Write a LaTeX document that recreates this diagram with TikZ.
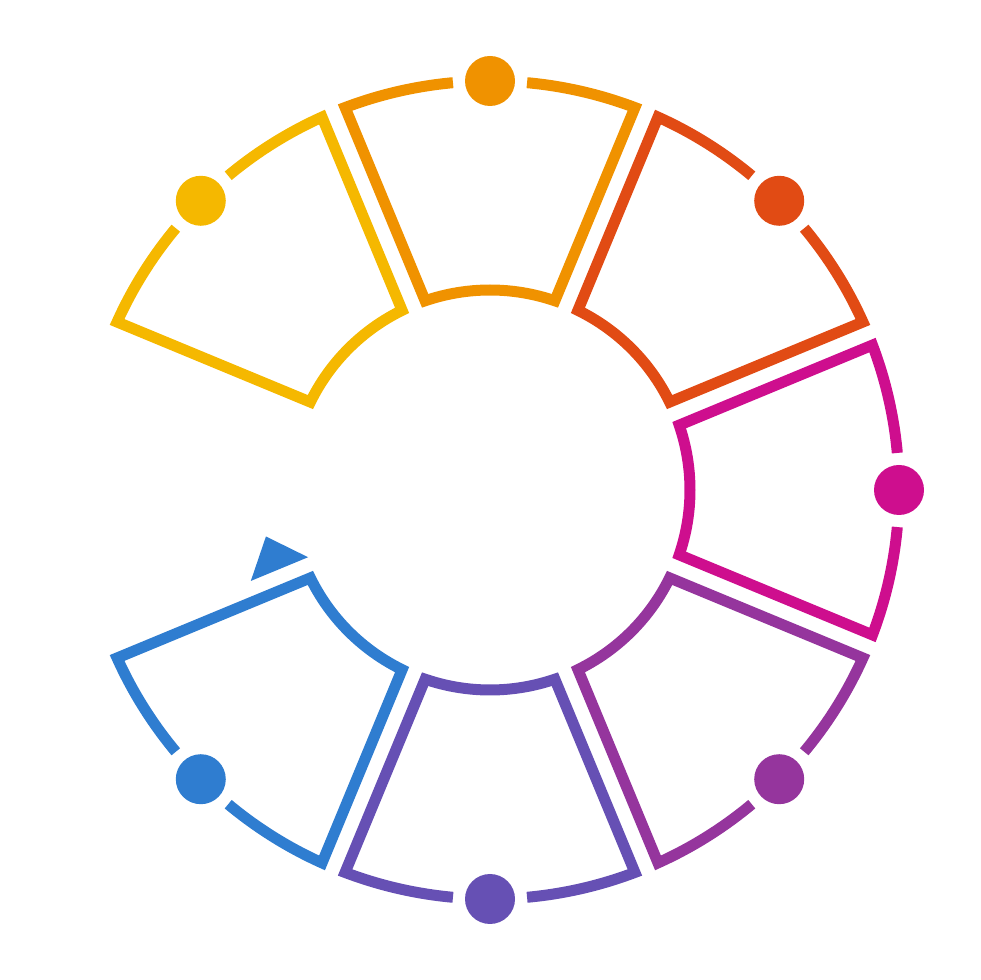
\documentclass[tikz,border=0pt]{standalone}
\definecolor{cyellow}{HTML}{F5B800}
\definecolor{corange}{HTML}{F09200}
\definecolor{cred}{HTML}{E14B14}
\definecolor{cmag}{HTML}{CE0E8E}
\definecolor{cpurple}{HTML}{95359D}
\definecolor{cviolet}{HTML}{6650B4}
\definecolor{cblue}{HTML}{2F7DD0}
\tikzset{
  segline/.style={line width=11pt, line join=miter},
  dotnode/.style={circle, inner sep=0pt, minimum size=50pt, draw=none},
}
\begin{document}
\begin{tikzpicture}[x=1pt,y=1pt]
\useasboundingbox (0,0) rectangle (980,980);
\begin{scope}[shift={(490,490)}]
\foreach \t/\c/\n in {90/corange/top, 45/cred/topright, 0/cmag/right, -45/cpurple/botright, -90/cviolet/bottom, -135/cblue/botleft, 135/cyellow/topleft}{
  \pgfmathsetmacro{\gapA}{\t+5.2}
  \pgfmathsetmacro{\gapB}{\t-5.2}
  \pgfmathsetmacro{\outL}{\t+20.75}
  \pgfmathsetmacro{\innL}{\t+18.92}
  \pgfmathsetmacro{\innR}{\t-18.92}
  \pgfmathsetmacro{\outR}{\t-20.75}
  \draw[segline, draw=\c] (\gapA:409) arc[start angle=\gapA, end angle=\outL, radius=409]
    -- (\innL:200) arc[start angle=\innL, end angle=\innR, radius=200]
    -- (\outR:409) arc[start angle=\outR, end angle=\gapB, radius=409];
  \node[dotnode, fill=\c] (dot-\n) at (\t:409) {};
}
\begin{scope}[rotate=202.5]
  \fill[cblue] (193.8,-7.5) -- (255.8,-7.5) -- (224.8,-42.8) -- cycle;
\end{scope}
\end{scope}
\end{tikzpicture}
\end{document}
